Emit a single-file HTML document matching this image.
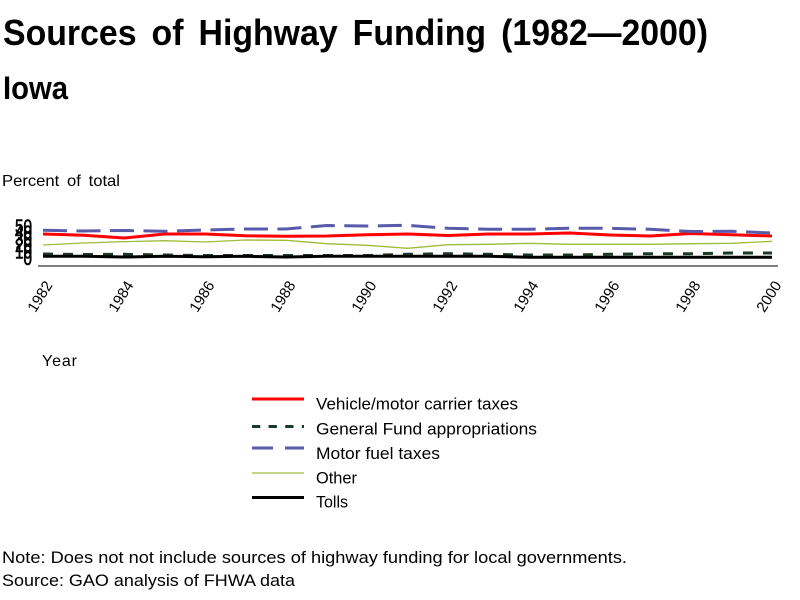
<!DOCTYPE html>
<html>
<head>
<meta charset="utf-8">
<style>
  html,body{margin:0;padding:0;background:#fff;}
  svg{display:block;}
  text{font-family:"Liberation Sans", Arial, sans-serif;fill:#000;}
</style>
</head>
<body>
<svg width="800" height="600" viewBox="0 0 800 600" xmlns="http://www.w3.org/2000/svg">
  <rect width="800" height="600" fill="#fff"/>

  <!-- Title -->
  <text x="3" y="45" font-weight="bold" font-size="36" word-spacing="6" textLength="705" lengthAdjust="spacingAndGlyphs">Sources of Highway Funding (1982—2000)</text>
  <text x="3" y="99" font-weight="bold" font-size="32" textLength="65" lengthAdjust="spacingAndGlyphs">Iowa</text>

  <text x="2" y="186" font-size="16" word-spacing="3" textLength="118" lengthAdjust="spacingAndGlyphs">Percent of total</text>

  <!-- Y labels (stacked) -->
  <g font-size="19" text-anchor="end" stroke="#000" stroke-width="0.6">
    <text x="32" y="232.8" textLength="17" lengthAdjust="spacingAndGlyphs">50</text>
    <text x="32" y="239.2" textLength="17" lengthAdjust="spacingAndGlyphs">40</text>
    <text x="32" y="245.6" textLength="17" lengthAdjust="spacingAndGlyphs">30</text>
    <text x="32" y="252.0" textLength="17" lengthAdjust="spacingAndGlyphs">20</text>
    <text x="32" y="258.4" textLength="17" lengthAdjust="spacingAndGlyphs">10</text>
    <text x="32" y="264.8" textLength="8.5" lengthAdjust="spacingAndGlyphs">0</text>
  </g>

  <!-- Series -->
  <g fill="none" stroke-linejoin="miter">
    <!-- Vehicle/motor carrier taxes -->
    <polyline stroke="#ff0000" stroke-width="3"
      points="43,234 83.5,235.3 124,238 164.5,234 205,234 245.5,235.7 286,236.3 326.5,236 367,234.7 407.5,234 448,235.5 488.5,234 529,234 569.5,233 610,235 650.5,236 691,233.5 731.5,234.7 772,236"/>
    <!-- General Fund appropriations -->
    <polyline stroke="#1c3a28" stroke-width="3" stroke-dasharray="10,10"
      points="43,254 83.5,254.5 124,254.3 164.5,255 205,255.5 245.5,255.5 286,255.5 326.5,255.5 367,255.5 407.5,254.3 448,253.7 488.5,254.3 529,255 569.5,255 610,254.3 650.5,253.7 691,253.7 731.5,253 772,253"/>
    <!-- Motor fuel taxes -->
    <polyline stroke="#5a5aaa" stroke-width="3" stroke-dasharray="24,9.5"
      points="43,230.3 83.5,231 124,230.5 164.5,231.3 205,230 245.5,229 286,229 326.5,225.5 367,226 407.5,225.3 448,228.3 488.5,229.3 529,229.3 569.5,228.3 610,228.3 650.5,229.3 691,231.5 731.5,231.3 772,233"/>
    <!-- Other -->
    <polyline stroke="#9fbc3a" stroke-width="1.3"
      points="43,245 83.5,243 124,241.7 164.5,240.7 205,242 245.5,240 286,240.3 326.5,243.7 367,245.3 407.5,248.3 448,244.7 488.5,244.3 529,243.3 569.5,244.3 610,244.3 650.5,244.3 691,243.7 731.5,243.3 772,241.3"/>
    <!-- Tolls -->
    <polyline stroke="#000" stroke-width="3"
      points="43,256.3 83.5,256.3 124,257 164.5,256.3 205,256.8 245.5,256.3 286,257 326.5,256.3 367,256.3 407.5,256.3 448,256.3 488.5,256.3 529,257.3 569.5,257.3 610,257.3 650.5,257.3 691,257.3 731.5,257.3 772,257.3"/>
  </g>

  <!-- X axis -->
  <line x1="38" y1="266" x2="778" y2="266" stroke="#000" stroke-width="1"/>

  <!-- X tick labels -->
  <g font-size="15" text-anchor="end">
    <text transform="translate(53,285) rotate(-58)">1982</text>
    <text transform="translate(134,285) rotate(-58)">1984</text>
    <text transform="translate(215,285) rotate(-58)">1986</text>
    <text transform="translate(296,285) rotate(-58)">1988</text>
    <text transform="translate(377,285) rotate(-58)">1990</text>
    <text transform="translate(458,285) rotate(-58)">1992</text>
    <text transform="translate(539,285) rotate(-58)">1994</text>
    <text transform="translate(620,285) rotate(-58)">1996</text>
    <text transform="translate(701,285) rotate(-58)">1998</text>
    <text transform="translate(782,285) rotate(-58)">2000</text>
  </g>

  <text x="42" y="366" font-size="16" textLength="35">Year</text>

  <!-- Legend -->
  <line x1="252" y1="399" x2="304" y2="399" stroke="#ff0000" stroke-width="3"/>
  <line x1="252" y1="426.5" x2="304" y2="426.5" stroke="#1c3a28" stroke-width="3" stroke-dasharray="8.3,8.3"/>
  <line x1="252" y1="448" x2="304" y2="448" stroke="#5a5aaa" stroke-width="3" stroke-dasharray="21,12"/>
  <line x1="252" y1="473" x2="304" y2="473" stroke="#9fbc3a" stroke-width="1.3"/>
  <line x1="252" y1="497.5" x2="304" y2="497.5" stroke="#000" stroke-width="3"/>
  <g font-size="17">
    <text x="316" y="409.5" textLength="202" lengthAdjust="spacingAndGlyphs">Vehicle/motor carrier taxes</text>
    <text x="316" y="434.5" textLength="221" lengthAdjust="spacingAndGlyphs">General Fund appropriations</text>
    <text x="316" y="459" textLength="124" lengthAdjust="spacingAndGlyphs">Motor fuel taxes</text>
    <text x="316" y="483.5" textLength="41" lengthAdjust="spacingAndGlyphs">Other</text>
    <text x="316" y="507.5" textLength="32" lengthAdjust="spacingAndGlyphs">Tolls</text>
  </g>

  <!-- Notes -->
  <g font-size="17">
    <text x="2" y="563" textLength="625" lengthAdjust="spacingAndGlyphs">Note: Does not not include sources of highway funding for local governments.</text>
    <text x="2" y="586" textLength="293" lengthAdjust="spacingAndGlyphs">Source: GAO analysis of FHWA data</text>
  </g>
</svg>
</body>
</html>
